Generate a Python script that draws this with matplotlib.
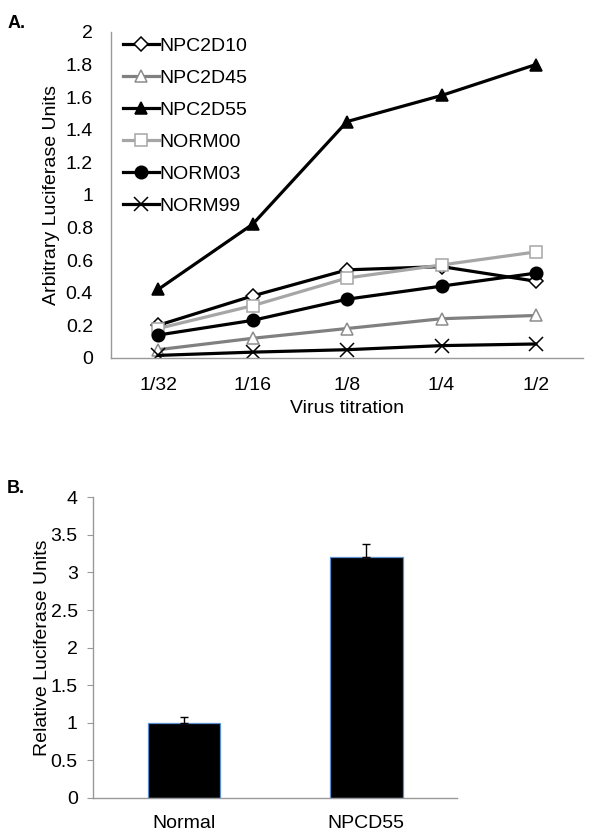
import numpy as np
import matplotlib.pyplot as plt

plt.rcParams['font.family'] = ['Liberation Sans', 'DejaVu Sans']

# Panel A data
titrations = ['1/32', '1/16', '1/8', '1/4', '1/2']
npc2d10 = [0.20, 0.38, 0.54, 0.56, 0.47]
npc2d45 = [0.05, 0.12, 0.18, 0.24, 0.26]
npc2d55 = [0.42, 0.82, 1.45, 1.61, 1.80]
norm00 = [0.18, 0.32, 0.49, 0.57, 0.65]
norm03 = [0.14, 0.23, 0.36, 0.44, 0.52]
norm99 = [0.015, 0.035, 0.05, 0.075, 0.085]

# Panel B data
groups = ['Normal', 'NPCD55']
rel_units = [1.0, 3.2]
rel_err = [0.08, 0.18]

fig = plt.figure(figsize=(6, 8.4), dpi=100)

# ---- Panel A
ax1 = fig.add_axes([0.185, 0.574, 0.787, 0.388])
x = np.arange(len(titrations))
series = [
    ('NPC2D10', npc2d10, 'black', 'D', 'white', 'black', 7),
    ('NPC2D45', npc2d45, '#808080', '^', 'white', '#8c8c8c', 9),
    ('NPC2D55', npc2d55, 'black', '^', 'black', 'black', 9),
    ('NORM00', norm00, '#a6a6a6', 's', 'white', '#a6a6a6', 9),
    ('NORM03', norm03, 'black', 'o', 'black', 'black', 9),
    ('NORM99', norm99, 'black', 'x', 'black', 'black', 10),
]
for nom, vals, col, mk, mfc, mec, ms in series:
    ax1.plot(x, vals, color=col, lw=2.3, marker=mk, markersize=ms,
             markerfacecolor=mfc, markeredgecolor=mec, markeredgewidth=1.1,
             label=nom)

ax1.set_xlim(-0.5, 4.5)
ax1.set_ylim(0, 2)
ax1.set_xticks(x)
ax1.set_xticklabels(titrations)
ax1.set_yticks(np.arange(0, 2.01, 0.2))
ax1.set_yticklabels(['0', '0.2', '0.4', '0.6', '0.8', '1', '1.2', '1.4', '1.6', '1.8', '2'])
ax1.tick_params(axis='y', length=0, labelsize=14, pad=13)
ax1.tick_params(axis='x', length=0, labelsize=14, pad=14)
for s in ['top', 'right']:
    ax1.spines[s].set_visible(False)
for s in ['left', 'bottom']:
    ax1.spines[s].set_color('#999999')
    ax1.spines[s].set_linewidth(1)
ax1.set_ylabel('Arbitrary Luciferase Units', fontsize=14, labelpad=4)
ax1.set_xlabel('Virus titration', fontsize=14, labelpad=4)
ax1.legend(loc='upper left', frameon=False, fontsize=14, handlelength=1.85,
           handletextpad=0.05, labelspacing=0.74, borderaxespad=0.2,
           bbox_to_anchor=(0.0, 1.02))
fig.text(0.012, 0.967, 'A.', fontsize=13, fontweight='bold')

# ---- Panel B
ax2 = fig.add_axes([0.155, 0.05, 0.607, 0.358])
xb = np.arange(len(groups))
ax2.bar(xb, rel_units, width=0.4, color='black', edgecolor='#5b8fd0', linewidth=0.9)
ax2.errorbar(xb, rel_units, yerr=[[0, 0], rel_err], fmt='none', ecolor='black',
             elinewidth=1, capsize=3, capthick=1)
ax2.set_xlim(-0.5, 1.5)
ax2.set_ylim(0, 4)
ax2.set_xticks(xb)
ax2.set_xticklabels(groups)
ax2.set_yticks(np.arange(0, 4.01, 0.5))
ax2.set_yticklabels(['0', '0.5', '1', '1.5', '2', '2.5', '3', '3.5', '4'])
ax2.tick_params(axis='y', length=4, color='#999999', labelsize=14, pad=7)
ax2.tick_params(axis='x', length=0, labelsize=14, pad=12)
for s in ['top', 'right']:
    ax2.spines[s].set_visible(False)
for s in ['left', 'bottom']:
    ax2.spines[s].set_color('#999999')
    ax2.spines[s].set_linewidth(1)
ax2.set_ylabel('Relative Luciferase Units', fontsize=14, labelpad=0)
fig.text(0.012, 0.413, 'B.', fontsize=13, fontweight='bold')

fig.savefig('out.png', dpi=100)
